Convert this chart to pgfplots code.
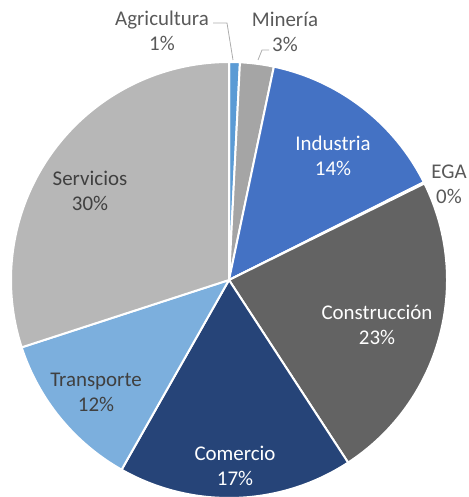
\documentclass[border=0pt]{standalone}
\usepackage{pgfplots}
\pgfplotsset{compat=1.18}
\usepackage{fontspec}
\setmainfont{Carlito}

\definecolor{cAgr}{HTML}{5B9BD5}
\definecolor{cMin}{HTML}{A5A5A5}
\definecolor{cInd}{HTML}{4472C4}
\definecolor{cEGA}{HTML}{255E91}
\definecolor{cCon}{HTML}{636363}
\definecolor{cCom}{HTML}{264478}
\definecolor{cTra}{HTML}{7CAFDD}
\definecolor{cSer}{HTML}{B7B7B7}
\definecolor{txtdark}{HTML}{404040}
\definecolor{txtout}{HTML}{595959}

\begin{document}
\begin{tikzpicture}
\begin{axis}[
    at={(0,0)}, anchor=south west,
    width=469bp, height=497bp, scale only axis,
    xmin=0, xmax=469, ymin=0, ymax=497,
    hide axis, clip=false,
]
% centre and radius in axis units (1 unit = 1bp)
\def\cx{229}\def\cy{217}\def\rad{218}
\xdef\cum{0}
% shares in percent, clockwise from 12 o'clock
\foreach \v/\c in {0.8/cAgr, 2.5/cMin, 14.3/cInd, 0.1/cEGA, 23.1/cCon, 17.4/cCom, 11.8/cTra, 30.0/cSer}{
    \pgfmathsetmacro\a{90-3.6*\cum}
    \pgfmathsetmacro\b{90-3.6*(\cum+\v)}
    \edef\temp{\noexpand\fill[\c, draw=white, line width=2bp] (axis cs:\cx,\cy) -- ++(\a:\rad bp)
        arc[start angle=\a, end angle=\b, radius=\rad bp] -- cycle;}
    \temp
    \pgfmathsetmacro\n{\cum+\v}
    \xdef\cum{\n}
}

% leader lines
\draw[gray!65, line width=0.8bp] (axis cs:213,474) -- (axis cs:227,474) -- (axis cs:233,437);
\draw[gray!65, line width=0.8bp] (axis cs:269,447) -- (axis cs:262,447) -- (axis cs:258,437);

\tikzset{lab/.style={align=center, font=\fontsize{21}{25}\selectfont, inner sep=0pt}}
\node[lab, text=txtout]   at (axis cs:162,466) {Agricultura\\1\%};
\node[lab, text=txtout]   at (axis cs:285,465) {Minería\\3\%};
\node[lab, text=white]    at (axis cs:333,341) {Industria\\14\%};
\node[lab, text=txtout]   at (axis cs:449,313) {EGA\\0\%};
\node[lab, text=white]    at (axis cs:377,172) {Construcción\\23\%};
\node[lab, text=white]    at (axis cs:235,31)  {Comercio\\17\%};
\node[lab, text=txtdark]  at (axis cs:96,105)  {Transporte\\12\%};
\node[lab, text=txtdark]  at (axis cs:90,306)  {Servicios\\30\%};
\end{axis}
\pgfresetboundingbox
\useasboundingbox (0,0) rectangle (469bp,497bp);
\end{tikzpicture}
\end{document}
